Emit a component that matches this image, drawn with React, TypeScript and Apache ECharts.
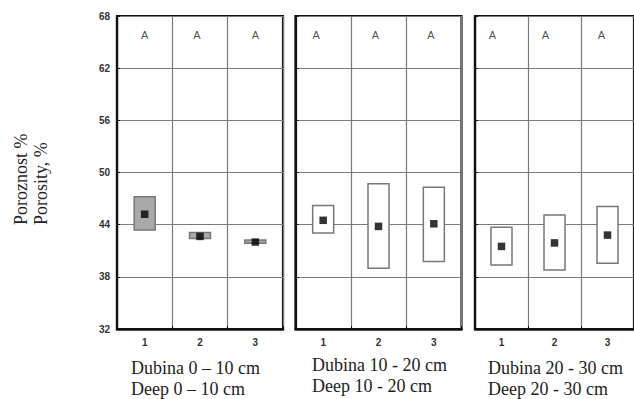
import React, { useEffect, useRef } from "react";
import * as echarts from "echarts";

const categories = ["1", "2", "3"];
const yMin = 32;
const yMax = 68;
const yStep = 6;

const panelTitles = [
  "Dubina 0 – 10 cm\nDeep 0 – 10 cm",
  "Dubina 10 - 20 cm\nDeep 10 - 20 cm",
  "Dubina 20 - 30 cm\nDeep 20 - 30 cm",
];
const yAxisTitle = "Poroznost %\nPorosity, %";

// box upper / lower edges and mean, per panel
const boxTop1 = [47.2, 43.1, 42.25];
const boxBottom1 = [43.4, 42.4, 41.85];
const mean1 = [45.2, 42.65, 42.0];

const boxTop2 = [46.2, 48.7, 48.3];
const boxBottom2 = [43.05, 39.0, 39.75];
const mean2 = [44.5, 43.8, 44.1];

const boxTop3 = [43.7, 45.1, 46.1];
const boxBottom3 = [39.35, 38.8, 39.55];
const mean3 = [41.5, 41.9, 42.8];

const letters1 = ["A", "A", "A"];
const letters2 = ["A", "A", "A"];
const letters3 = ["A", "A", "A"];
const letterLevel = 65.8;

const panels = [
  { top: boxTop1, bottom: boxBottom1, mean: mean1, letters: letters1 },
  { top: boxTop2, bottom: boxBottom2, mean: mean2, letters: letters2 },
  { top: boxTop3, bottom: boxBottom3, mean: mean3, letters: letters3 },
];

// layout / style
const gridLefts = [117, 295.5, 475];
const gridWidth = 166;
const gridTop = 16;
const gridHeight = 313;
const boxFill = ["#a9a9a9", "#ffffff", "#ffffff"];
const letterShift = [
  [0, -3, 0],
  [-7, -3, -3],
  [-9, -9, -6],
];
const titlePos = [
  { left: 131, top: 357 },
  { left: 312, top: 354 },
  { left: 488, top: 357 },
];
const serif = "'Times New Roman', 'Liberation Serif', serif";
const sans = "Arial, 'Liberation Sans', sans-serif";
const gridLineColor = "#7a7a7a";

export default function App() {
  const ref = useRef<HTMLDivElement>(null);

  useEffect(() => {
    if (!ref.current) return;
    const chart = echarts.init(ref.current, null, { renderer: "svg" });

    const grid = gridLefts.map((left) => ({
      left,
      top: gridTop,
      width: gridWidth,
      height: gridHeight,
      show: true,
      borderColor: "#111",
      borderWidth: 2.2,
      backgroundColor: "#fff",
    }));

    const xAxis = panels.map((_, i) => ({
      type: "category",
      gridIndex: i,
      data: categories,
      boundaryGap: true,
      axisLine: { show: true, lineStyle: { color: "#111", width: 2.5 } },
      axisTick: { show: true, inside: true, length: 3, lineStyle: { color: "#111" } },
      axisLabel: {
        color: "#333",
        fontSize: 10,
        fontWeight: "bold",
        fontFamily: sans,
        margin: 8,
      },
      splitLine: { show: true, lineStyle: { color: gridLineColor, width: 1.2 } },
    }));

    const yAxis = panels.map((_, i) => ({
      type: "value",
      gridIndex: i,
      min: yMin,
      max: yMax,
      interval: yStep,
      axisLine: { show: true, lineStyle: { color: "#111", width: 2.2 } },
      axisTick: { show: true, inside: true, length: 3, lineStyle: { color: "#111" } },
      axisLabel: {
        show: i === 0,
        color: "#333",
        fontSize: 10,
        fontWeight: "bold",
        fontFamily: sans,
        margin: 7,
      },
      splitLine: { show: true, lineStyle: { color: gridLineColor, width: 1.2 } },
    }));

    const series: any[] = [];
    panels.forEach((p, i) => {
      const fill = boxFill[i];
      series.push({
        type: "custom",
        xAxisIndex: i,
        yAxisIndex: i,
        z: 3,
        encode: { x: 0, y: [1, 2] },
        data: categories.map((_, k) => [k, p.top[k], p.bottom[k]]),
        renderItem: (params: any, api: any) => {
          const x = api.value(0);
          const a = api.coord([x, api.value(1)]);
          const b = api.coord([x, api.value(2)]);
          const w = 21;
          return {
            type: "rect",
            shape: { x: a[0] - w / 2, y: a[1], width: w, height: b[1] - a[1] },
            style: { fill, stroke: "#777", lineWidth: 1.5 },
          };
        },
      });
      series.push({
        type: "scatter",
        xAxisIndex: i,
        yAxisIndex: i,
        z: 4,
        symbol: "rect",
        symbolSize: 7.5,
        itemStyle: { color: "#000" },
        data: categories.map((_, k) => [k, p.mean[k]]),
      });
      series.push({
        type: "scatter",
        xAxisIndex: i,
        yAxisIndex: i,
        z: 4,
        symbolSize: 0,
        data: categories.map((_, k) => ({
          value: [k, letterLevel],
          name: p.letters[k],
          label: { offset: [letterShift[i][k], 0] },
        })),
        label: {
          show: true,
          position: "inside",
          formatter: "{b}",
          fontSize: 11,
          fontFamily: sans,
          color: "#222",
        },
      });
    });

    const title = panelTitles.map((t, i) => ({
      text: t,
      left: titlePos[i].left,
      top: titlePos[i].top,
      padding: 0,
      textStyle: {
        fontSize: 18,
        lineHeight: 21,
        fontWeight: "normal",
        fontFamily: serif,
        color: "#222",
      },
    }));

    chart.setOption({
      animation: false,
      backgroundColor: "#fff",
      title,
      grid,
      xAxis,
      yAxis,
      series,
      graphic: [
        {
          type: "text",
          x: 31,
          y: 225,
          rotation: Math.PI / 2,
          style: {
            text: yAxisTitle,
            fontSize: 18,
            lineHeight: 20,
            fontFamily: serif,
            fill: "#222",
            align: "left",
            verticalAlign: "middle",
          },
        },
      ],
    });

    return () => chart.dispose();
  }, []);

  return (
    <div
      ref={ref}
      style={{ position: "fixed", left: 0, top: 0, width: 634, height: 399 }}
    />
  );
}
